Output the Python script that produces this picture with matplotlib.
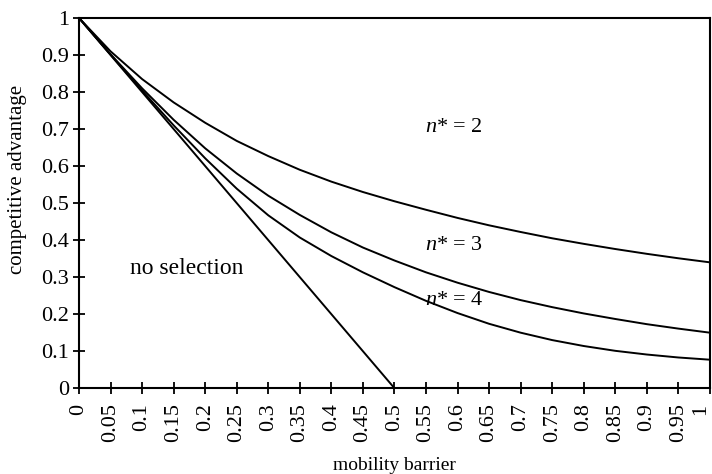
import numpy as np
import matplotlib.pyplot as plt

plt.rcParams['font.family'] = ['Liberation Serif', 'DejaVu Serif']
plt.rcParams['mathtext.fontset'] = 'custom'
plt.rcParams['mathtext.rm'] = 'Liberation Serif'
plt.rcParams['mathtext.it'] = 'Liberation Serif:italic'

barrier = [0, 0.05, 0.1, 0.15, 0.2, 0.25, 0.3, 0.35, 0.4, 0.45, 0.5,
           0.55, 0.6, 0.65, 0.7, 0.75, 0.8, 0.85, 0.9, 0.95, 1]
n2 = [1, 0.91, 0.835, 0.772, 0.717, 0.668, 0.627, 0.59, 0.558, 0.53, 0.505,
      0.482, 0.46, 0.44, 0.422, 0.405, 0.39, 0.376, 0.363, 0.351, 0.34]
n3 = [1, 0.902, 0.81, 0.725, 0.648, 0.58, 0.52, 0.468, 0.421, 0.38, 0.345,
      0.313, 0.285, 0.26, 0.238, 0.219, 0.202, 0.187, 0.173, 0.161, 0.15]
n4 = [1, 0.901, 0.804, 0.71, 0.621, 0.539, 0.467, 0.407, 0.357, 0.313, 0.273,
      0.236, 0.203, 0.174, 0.15, 0.13, 0.114, 0.101, 0.091, 0.083, 0.077]
# boundary of the no-selection region
bound_x = [0, 0.5]
bound_y = [1, 0]

xticks = barrier
xlabels = ['0', '0.05', '0.1', '0.15', '0.2', '0.25', '0.3', '0.35', '0.4', '0.45', '0.5',
           '0.55', '0.6', '0.65', '0.7', '0.75', '0.8', '0.85', '0.9', '0.95', '1']
yticks = [0, 0.1, 0.2, 0.3, 0.4, 0.5, 0.6, 0.7, 0.8, 0.9, 1]
ylabels = ['0', '0.1', '0.2', '0.3', '0.4', '0.5', '0.6', '0.7', '0.8', '0.9', '1']

fig = plt.figure(figsize=(7.12, 4.74), dpi=100)
ax = fig.add_axes([0.111, 0.181, 0.886, 0.781])

lw = 1.4
ax.plot(barrier, n2, color='black', lw=lw)
ax.plot(barrier, n3, color='black', lw=lw)
ax.plot(barrier, n4, color='black', lw=lw)
ax.plot(bound_x, bound_y, color='black', lw=lw)

ax.set_xlim(0, 1)
ax.set_ylim(0, 1)
ax.set_xticks(xticks)
ax.set_xticklabels(xlabels, rotation=90, fontsize=16,
                   rotation_mode='anchor', ha='right', va='center')
# keep the last label inside the figure
ax.get_xticklabels()[-1].set_va('bottom')
ax.set_yticks(yticks)
ax.set_yticklabels(ylabels, fontsize=16)
ax.tick_params(direction='inout', length=8, width=1.3, pad=3)
ax.tick_params(axis='x', pad=7)
for s in ax.spines.values():
    s.set_linewidth(1.5)

ax.set_xlabel('mobility barrier', fontsize=14)
ax.xaxis.set_label_coords(0.5, -0.186)
ax.set_ylabel('competitive advantage', fontsize=15)
ax.yaxis.set_label_coords(-0.082, 0.565)

ax.text(0.548, 0.705, '$n$* = 2', fontsize=16, va='center')
ax.text(0.548, 0.386, '$n$* = 3', fontsize=16, va='center')
ax.text(0.548, 0.238, '$n$* = 4', fontsize=16, va='center')
ax.text(0.081, 0.324, 'no selection', fontsize=17, va='center')

fig.savefig('out.png', dpi=100)
